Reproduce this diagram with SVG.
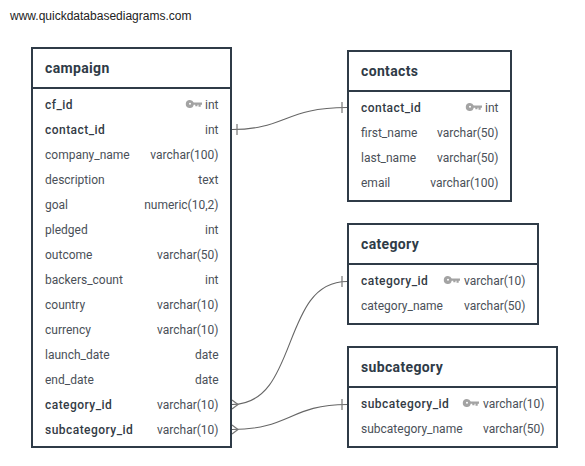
<svg xmlns="http://www.w3.org/2000/svg" width="585" height="466" viewBox="0 0 585 466">
<style>
text{font-family:Roboto,"Liberation Sans",sans-serif;font-size:12px;fill:#4a5058}
.box{fill:#fff;stroke:#2f3b47;stroke-width:2}
.hl{stroke:#2f3b47;stroke-width:2}
.t{font-size:14px;font-weight:700;fill:#2f3b47;letter-spacing:.35px}
.b{font-weight:500;fill:#333b45;letter-spacing:.46px}
.r{text-anchor:end}
.c{fill:none;stroke:#666;stroke-width:1.1}
.m{fill:none;stroke:#777;stroke-width:1.2}
.k{fill:#a3a3a3}
.u{fill:#222;font-family:"Liberation Sans",Arial,sans-serif;font-size:12px}
</style>
<defs>
<path id="key" class="k" d="M4 0a4 4 0 0 1 3.700 2.500H16v2.300h-1.300v2h-2.200v-2h-1v1.500H9.300V4.800H7.700A4 4 0 1 1 4 0zm0 2.800a1 1 0 1 0 0 2 1 1 0 0 0 0-2z"/>
</defs>
<rect width="585" height="466" fill="#fff"/>
<text class="u" x="10" y="20">www.quickdatabasediagrams.com</text>
<g id="connectors">
<path class="c" d="M232 129.500C285 129.500 285 107.500 347 107.500"/>
<path class="m" d="M237 124V135M342 102V113"/>
<path class="c" d="M232 404.500C300 404.500 280 281.500 347 281.500"/>
<path class="m" d="M342 276V287M232 400L238 404.500L232 409"/>
<path class="c" d="M232 429.500C290 429.500 290 404.500 347 404.500"/>
<path class="m" d="M342 399V410M232 425L238 429.500L232 434"/>
</g>
<g id="campaign">
<rect class="box" x="32" y="48" width="199" height="399"/>
<path class="hl" d="M32 88H231"/>
<text class="t" x="45" y="73">campaign</text>
<text class="b" x="45" y="109">cf_id</text><use href="#key" x="186" y="100"/><text class="r" x="218.500" y="109">int</text>
<text class="b" x="45" y="134">contact_id</text><text class="r" x="218.500" y="134">int</text>
<text x="45" y="159">company_name</text><text class="r" x="218.500" y="159">varchar(100)</text>
<text x="45" y="184">description</text><text class="r" x="218.500" y="184">text</text>
<text x="45" y="209">goal</text><text class="r" x="218.500" y="209">numeric(10,2)</text>
<text x="45" y="234">pledged</text><text class="r" x="218.500" y="234">int</text>
<text x="45" y="259">outcome</text><text class="r" x="218.500" y="259">varchar(50)</text>
<text x="45" y="284">backers_count</text><text class="r" x="218.500" y="284">int</text>
<text x="45" y="309">country</text><text class="r" x="218.500" y="309">varchar(10)</text>
<text x="45" y="334">currency</text><text class="r" x="218.500" y="334">varchar(10)</text>
<text x="45" y="359">launch_date</text><text class="r" x="218.500" y="359">date</text>
<text x="45" y="384">end_date</text><text class="r" x="218.500" y="384">date</text>
<text class="b" x="45" y="409">category_id</text><text class="r" x="218.500" y="409">varchar(10)</text>
<text class="b" x="45" y="434">subcategory_id</text><text class="r" x="218.500" y="434">varchar(10)</text>
</g>
<g id="contacts">
<rect class="box" x="348" y="51" width="163" height="150"/>
<path class="hl" d="M348 91H511"/>
<text class="t" x="361" y="76">contacts</text>
<text class="b" x="361" y="112">contact_id</text><use href="#key" x="466" y="103"/><text class="r" x="498.500" y="112">int</text>
<text x="361" y="137">first_name</text><text class="r" x="498.500" y="137">varchar(50)</text>
<text x="361" y="162">last_name</text><text class="r" x="498.500" y="162">varchar(50)</text>
<text x="361" y="187">email</text><text class="r" x="498.500" y="187">varchar(100)</text>
</g>
<g id="category">
<rect class="box" x="348" y="224" width="190" height="100"/>
<path class="hl" d="M348 264H538"/>
<text class="t" x="361" y="249">category</text>
<text class="b" x="361" y="285">category_id</text><use href="#key" x="444" y="276"/><text class="r" x="525.500" y="285">varchar(10)</text>
<text x="361" y="310">category_name</text><text class="r" x="525.500" y="310">varchar(50)</text>
</g>
<g id="subcategory">
<rect class="box" x="348" y="347" width="209" height="100"/>
<path class="hl" d="M348 387H557"/>
<text class="t" x="361" y="372">subcategory</text>
<text class="b" x="361" y="408">subcategory_id</text><use href="#key" x="463" y="399"/><text class="r" x="544.500" y="408">varchar(10)</text>
<text x="361" y="433">subcategory_name</text><text class="r" x="544.500" y="433">varchar(50)</text>
</g>
</svg>
